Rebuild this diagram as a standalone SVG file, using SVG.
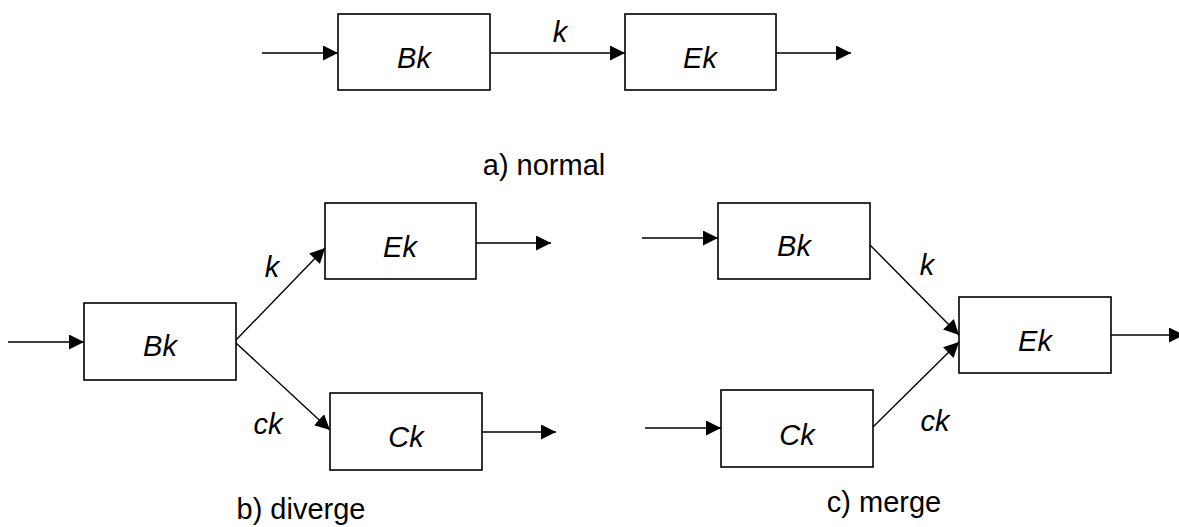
<svg xmlns="http://www.w3.org/2000/svg" width="1179" height="527" viewBox="0 0 1179 527">
  <style>
    .box { fill: #ffffff; stroke: #000000; stroke-width: 1.6; }
    .wire { fill: none; stroke: #000000; stroke-width: 1.4; marker-end: url(#arrow); }
    .lbl { font-family: "Liberation Sans", Arial, sans-serif; font-style: italic; font-size: 29px; fill: #000000; text-anchor: middle; }
    .cap { font-family: "Liberation Sans", Arial, sans-serif; font-size: 29px; fill: #000000; text-anchor: middle; }
  </style>
  <defs>
    <marker id="arrow" viewBox="0 0 15 15" refX="15" refY="7.5" markerWidth="15" markerHeight="15" markerUnits="userSpaceOnUse" orient="auto">
      <path d="M0,0 L15,7.5 L0,15 Z" fill="#000000"/>
    </marker>
  </defs>

  <rect width="1179" height="527" fill="#ffffff"/>

  <!-- a) normal -->
  <g id="a-Bk"><rect class="box" x="338" y="14" width="152" height="76"/><text class="lbl" x="414" y="68">Bk</text></g>
  <g id="a-Ek"><rect class="box" x="625" y="14" width="151" height="76"/><text class="lbl" x="700" y="68">Ek</text></g>
  <text class="cap" x="544" y="175">a) normal</text>

  <!-- b) diverge -->
  <g id="b-Bk"><rect class="box" x="84" y="303" width="152" height="77"/><text class="lbl" x="160" y="356">Bk</text></g>
  <g id="b-Ek"><rect class="box" x="325" y="203" width="151" height="76"/><text class="lbl" x="400" y="257">Ek</text></g>
  <g id="b-Ck"><rect class="box" x="330" y="393" width="152" height="77"/><text class="lbl" x="406" y="447">Ck</text></g>
  <text class="cap" x="301" y="519">b) diverge</text>

  <!-- c) merge -->
  <g id="c-Bk"><rect class="box" x="718" y="203" width="152" height="76"/><text class="lbl" x="794" y="256">Bk</text></g>
  <g id="c-Ck"><rect class="box" x="721" y="390" width="152" height="77"/><text class="lbl" x="797" y="445">Ck</text></g>
  <g id="c-Ek"><rect class="box" x="959" y="297" width="152" height="76"/><text class="lbl" x="1035" y="351">Ek</text></g>
  <text class="cap" x="884" y="512">c) merge</text>

  <g id="connectors">
    <line class="wire" x1="262" y1="53" x2="338" y2="53"/>
    <line class="wire" x1="490" y1="53" x2="625" y2="53"/>
    <line class="wire" x1="776" y1="53" x2="851" y2="53"/>
    <text class="lbl" x="560" y="42">k</text>

    <line class="wire" x1="8" y1="342" x2="84" y2="342"/>
    <line class="wire" x1="236" y1="340" x2="325" y2="248"/>
    <line class="wire" x1="236" y1="343" x2="330" y2="430"/>
    <line class="wire" x1="476" y1="243" x2="551" y2="243"/>
    <line class="wire" x1="482" y1="432" x2="556" y2="432"/>
    <text class="lbl" x="272" y="277">k</text>
    <text class="lbl" x="268" y="434">ck</text>

    <line class="wire" x1="642" y1="238" x2="718" y2="238"/>
    <line class="wire" x1="645" y1="428" x2="721" y2="428"/>
    <line class="wire" x1="870" y1="245" x2="959" y2="335"/>
    <line class="wire" x1="873" y1="427" x2="959" y2="342"/>
    <line class="wire" x1="1111" y1="335" x2="1184" y2="335"/>
    <text class="lbl" x="927" y="275">k</text>
    <text class="lbl" x="935" y="431">ck</text>
  </g>
</svg>
